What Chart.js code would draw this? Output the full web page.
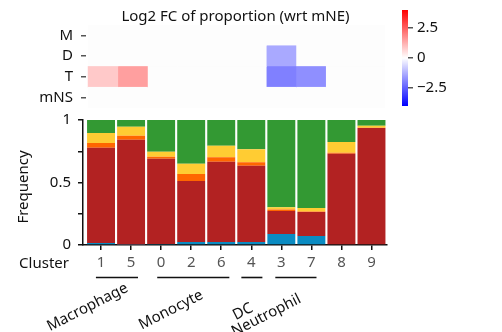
<!DOCTYPE html>
<html>
<head>
<meta charset="utf-8">
<script src="https://cdn.jsdelivr.net/npm/chart.js@4/dist/chart.umd.min.js"></script>
<style>
  body { margin: 0; background: #fff; }
  #wrap { position: relative; width: 502px; height: 332px; overflow: hidden; }
  canvas { position: absolute; }
</style>
</head>
<body>
<div id="wrap">
  <canvas id="bars" width="502" height="332" style="left:0;top:0"></canvas>
  <canvas id="heat" width="390" height="115" style="left:0;top:0"></canvas>
  <canvas id="cbar" width="112" height="115" style="left:390px;top:0"></canvas>
</div>
<script>
// cluster order on the x axis
const clusters = ['1', '5', '0', '2', '6', '4', '3', '7', '8', '9'];

// stacked frequencies, bottom to top
const blueFreq   = [0.016, 0.005, 0.008, 0.024, 0.024, 0.024, 0.088, 0.072, 0.000, 0.000];
const redFreq    = [0.762, 0.837, 0.682, 0.489, 0.642, 0.610, 0.185, 0.193, 0.730, 0.936];
const orangeFreq = [0.038, 0.032, 0.016, 0.056, 0.037, 0.029, 0.011, 0.003, 0.008, 0.002];
const yellowFreq = [0.080, 0.072, 0.040, 0.081, 0.091, 0.104, 0.018, 0.029, 0.086, 0.016];
const greenFreq  = [0.104, 0.054, 0.254, 0.350, 0.206, 0.233, 0.698, 0.703, 0.176, 0.046];

const yTicks = [0, 0.25, 0.5, 0.75, 1];

// log2 FC heatmap rows
const heatRows = ['M', 'D', 'T', 'mNS'];
const fcM   = [0, 0, 0, 0, 0, 0, 0, 0, 0, 0];
const fcD   = [0, 0, 0, 0, 0, 0, -1.35, 0, 0, 0];
const fcT   = [0.85, 1.5, 0, 0, 0, 0, -2.0, -1.75, 0, 0];
const fcMNS = [0, 0, 0, 0, 0, 0, 0, 0, 0, 0];
const cbarTicks = [-2.5, 0, 2.5];

// cell type groups under the clusters
const groupNames = ['Macrophage', 'Monocyte', 'DC', 'Neutrophil'];
const groupSpans = [[-0.17, 1.23], [1.87, 4.27], [4.67, 5.37], [5.8, 7.17]];

Chart.defaults.font.family = "'Noto Sans', 'Open Sans', sans-serif";
Chart.defaults.font.size = 15;
Chart.defaults.color = '#111';
Chart.defaults.animation = false;

const fmtNum = (v) => (v < 0 ? '\u2212' + Math.abs(v) : String(v));

// bwr colormap, -4..4
function bwr(v) {
  const t = Math.max(-1, Math.min(1, v / 4));
  if (v === 0) return '#fdfdfd';
  if (t > 0) {
    const c = Math.round(255 * (1 - t));
    return `rgb(255,${c},${c})`;
  }
  const c = Math.round(255 * (1 + t));
  return `rgb(${c},${c},255)`;
}

// ---------- stacked bars ----------
const series = [
  { name: 'blue', data: blueFreq, color: '#0a8bc2' },
  { name: 'red', data: redFreq, color: '#b22222' },
  { name: 'orange', data: orangeFreq, color: '#ff6600' },
  { name: 'yellow', data: yellowFreq, color: '#ffcc33' },
  { name: 'green', data: greenFreq, color: '#339933' },
];

const barExtras = {
  id: 'barExtras',
  afterDraw(chart) {
    const { ctx } = chart;
    const xs = chart.scales.x;
    ctx.save();
    ctx.fillStyle = '#111';
    ctx.font = "15px 'Noto Sans'";
    // y title
    ctx.save();
    ctx.translate(24, 187);
    ctx.rotate(-Math.PI / 2);
    ctx.textAlign = 'center';
    ctx.textBaseline = 'middle';
    ctx.fillText('Frequency', 0, 0);
    ctx.restore();
    // cluster caption
    ctx.textAlign = 'right';
    ctx.textBaseline = 'middle';
    ctx.fillText('Cluster', 69, 264);
    // group lines and labels
    const labelEnds = [[129, 291], [204, 298], [254, 311], [302, 302]];
    ctx.strokeStyle = '#111';
    ctx.lineWidth = 1.6;
    groupSpans.forEach((s, i) => {
      const a = xs.getPixelForValue(s[0]);
      const b = xs.getPixelForValue(s[1]);
      ctx.beginPath();
      ctx.moveTo(a, 277.5);
      ctx.lineTo(b, 277.5);
      ctx.stroke();
      ctx.save();
      ctx.translate(labelEnds[i][0], labelEnds[i][1]);
      ctx.rotate(-27 * Math.PI / 180);
      ctx.textAlign = 'right';
      ctx.textBaseline = 'alphabetic';
      ctx.fillText(groupNames[i], 0, 0);
      ctx.restore();
    });
    ctx.restore();
  }
};

new Chart(document.getElementById('bars'), {
  type: 'bar',
  data: {
    datasets: series.map((s) => ({
      label: s.name,
      data: s.data.map((v, i) => ({ x: i, y: v })),
      backgroundColor: s.color,
      borderWidth: 0,
      barPercentage: 0.93,
      categoryPercentage: 1,
    })),
  },
  options: {
    responsive: false,
    layout: { padding: { left: 0, top: 120, right: 115.5, bottom: 0 } },
    plugins: { legend: { display: false }, tooltip: { enabled: false } },
    scales: {
      x: {
        type: 'linear',
        stacked: true,
        offset: false,
        min: -0.6,
        max: 9.5,
        afterFit: (s) => { s.height = 87; },
        afterBuildTicks: (s) => { s.ticks = clusters.map((c, i) => ({ value: i })); },
        ticks: {
          autoSkip: false,
          maxRotation: 0,
          padding: 4,
          color: '#555',
          callback: (v) => clusters[v],
        },
        grid: { offset: false, drawOnChartArea: false, drawTicks: true, tickLength: 5, color: '#111', lineWidth: 1.5 },
        border: { color: '#111', width: 1.5 },
      },
      y: {
        stacked: true,
        min: 0,
        max: 1,
        afterFit: (s) => { s.width = 83; },
        afterBuildTicks: (s) => { s.ticks = yTicks.map((v) => ({ value: v })); },
        ticks: {
          padding: 7,
          callback: (v) => (v === 0 || v === 0.5 || v === 1 ? String(v) : ''),
        },
        grid: { drawOnChartArea: false, drawTicks: true, tickLength: 5, color: '#111', lineWidth: 1.5 },
        border: { color: '#111', width: 1.5 },
      },
    },
  },
  plugins: [barExtras],
});

// ---------- heatmap ----------
const fcRows = [fcM, fcD, fcT, fcMNS];

const heatTitle = {
  id: 'heatTitle',
  afterDraw(chart) {
    const { ctx, chartArea } = chart;
    ctx.save();
    ctx.fillStyle = '#111';
    ctx.font = "15px 'Noto Sans'";
    ctx.textAlign = 'center';
    ctx.textBaseline = 'middle';
    ctx.fillText('Log2 FC of proportion (wrt mNE)', (chartArea.left + chartArea.right) / 2, 17);
    ctx.restore();
  }
};

new Chart(document.getElementById('heat'), {
  type: 'bar',
  data: {
    labels: heatRows,
    datasets: clusters.map((c, ci) => ({
      label: c,
      data: heatRows.map(() => [ci, ci + 1]),
      backgroundColor: fcRows.map((row) => bwr(row[ci])),
      borderWidth: 0,
      grouped: false,
      barPercentage: 1,
      categoryPercentage: 1,
    })),
  },
  options: {
    responsive: false,
    indexAxis: 'y',
    layout: { padding: { left: 0, top: 25, right: 5, bottom: 7 } },
    plugins: { legend: { display: false }, tooltip: { enabled: false } },
    scales: {
      x: { type: 'linear', min: -0.07, max: 10, display: false },
      y: {
        type: 'category',
        afterFit: (s) => { s.width = 86; s.paddingTop = 0; s.paddingBottom = 0; },
        ticks: { padding: 8, autoSkip: false },
        grid: { offset: false, drawOnChartArea: false, drawTicks: true, tickLength: 5, color: '#555', lineWidth: 1.5 },
        border: { display: false },
      },
    },
  },
  plugins: [heatTitle],
});

// ---------- colorbar ----------
new Chart(document.getElementById('cbar'), {
  type: 'bar',
  data: {
    labels: ['cbar'],
    datasets: [{
      data: [[-4, 4]],
      borderWidth: 0,
      barPercentage: 1,
      categoryPercentage: 1,
      backgroundColor: (ctx) => {
        const area = ctx.chart.chartArea;
        if (!area) return '#fff';
        const g = ctx.chart.ctx.createLinearGradient(0, area.bottom, 0, area.top);
        g.addColorStop(0, bwr(-4));
        g.addColorStop(0.5, '#ffffff');
        g.addColorStop(1, bwr(4));
        return g;
      },
    }],
  },
  options: {
    responsive: false,
    layout: { padding: { left: 12, top: 10, right: 0, bottom: 9 } },
    plugins: { legend: { display: false }, tooltip: { enabled: false } },
    scales: {
      x: { display: false },
      y: {
        position: 'right',
        min: -4,
        max: 4,
        afterFit: (s) => { s.width = 94; s.paddingTop = 0; s.paddingBottom = 0; },
        afterBuildTicks: (s) => { s.ticks = cbarTicks.map((v) => ({ value: v })); },
        ticks: { padding: 4, autoSkip: false, callback: (v) => fmtNum(v) },
        grid: { drawOnChartArea: false, drawTicks: true, tickLength: 5, color: '#555', lineWidth: 1.5 },
        border: { display: false },
      },
    },
  },
});
</script>
</body>
</html>
